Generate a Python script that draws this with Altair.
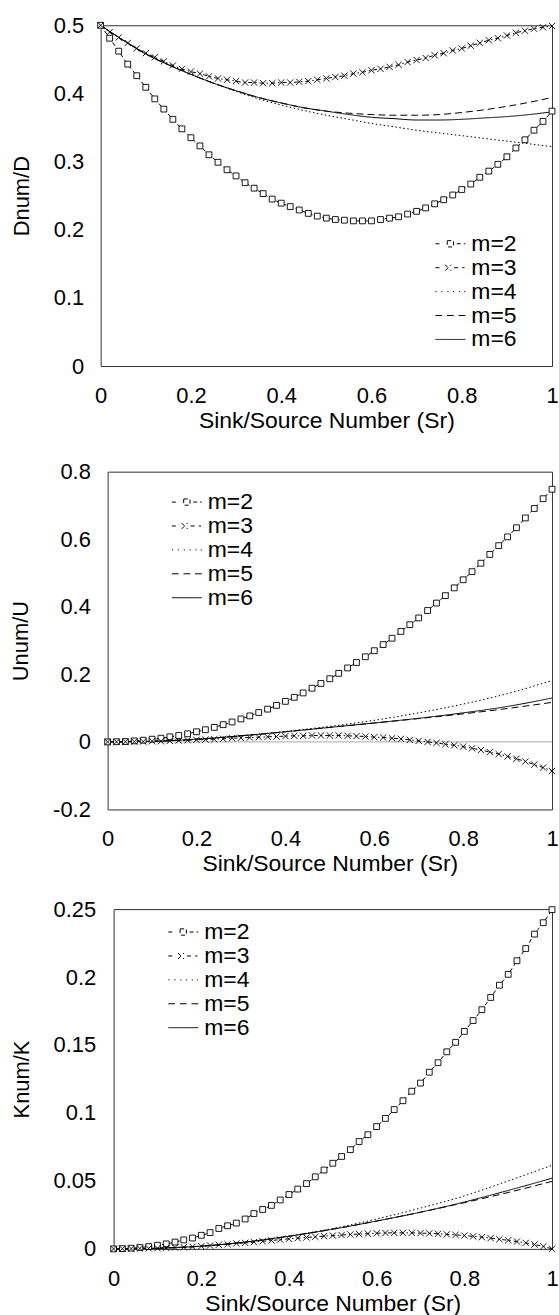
import altair as alt
import pandas as pd

FONT = "Liberation Sans"
SERIES = ["m=2", "m=3", "m=4", "m=5", "m=6"]
DASHES = [[4, 3], [4, 3, 1.5, 3], [1.5, 2.5], [7, 4], [1, 0]]
X_PATH = "M-1,-1L1,1M-1,1L1,-1"

# legend glyphs (box -2..2, drawn solid)
GLYPHS = [
    "M-2,0H-1.2M-0.42,-0.42H0.42V0.42H-0.42ZM0.85,0H2",
    "M-2,0H-1.2M-0.7,-0.4L0.1,0.4M-0.7,0.4L0.1,-0.4M0.5,0H1.1M1.6,0H1.9",
    "M-2,0H-1.85M-1.2,0H-1.05M-0.4,0H-0.25M0.35,0H0.5M1.15,0H1.3M1.85,0H2",
    "M-2,0H-1.1M-0.45,0H0.45M1.1,0H2",
    "M-2,0H2",
]
GLYPH_EXPR = ("datum.value == 'm=2' ? '{0}' : datum.value == 'm=3' ? '{1}' : "
              "datum.value == 'm=4' ? '{2}' : datum.value == 'm=5' ? '{3}' : '{4}'").format(*GLYPHS)

X_MARKERS = [i / 50 for i in range(51)]
X_LINES_D = [i / 20 for i in range(21)]
X_LINES = [i / 10 for i in range(11)]
X_TICKS = [0, 0.2, 0.4, 0.6, 0.8, 1]

# ---- Panel 1: Dnum/D ----
D_M2 = [0.500, 0.481, 0.462, 0.443, 0.426, 0.409, 0.392, 0.377, 0.362, 0.348,
        0.335, 0.323, 0.310, 0.299, 0.288, 0.279, 0.269, 0.261, 0.253, 0.245,
        0.239, 0.234, 0.229, 0.224, 0.220, 0.217, 0.215, 0.214, 0.213, 0.213,
        0.213, 0.215, 0.217, 0.219, 0.223, 0.227, 0.232, 0.238, 0.244, 0.251,
        0.259, 0.267, 0.277, 0.286, 0.296, 0.307, 0.320, 0.332, 0.346, 0.359, 0.374]
D_M3 = [0.500, 0.490, 0.482, 0.474, 0.466, 0.459, 0.453, 0.447, 0.441, 0.436,
        0.432, 0.429, 0.425, 0.422, 0.420, 0.418, 0.416, 0.416, 0.415, 0.415,
        0.416, 0.416, 0.417, 0.418, 0.420, 0.422, 0.424, 0.426, 0.429, 0.431,
        0.434, 0.436, 0.439, 0.442, 0.446, 0.449, 0.452, 0.456, 0.459, 0.463,
        0.466, 0.470, 0.474, 0.478, 0.481, 0.485, 0.489, 0.492, 0.495, 0.497, 0.499]
D_M4 = [0.5, 0.478, 0.458, 0.442, 0.428, 0.415, 0.403, 0.392, 0.383, 0.375, 0.368,
        0.362, 0.356, 0.351, 0.346, 0.342, 0.338, 0.334, 0.330, 0.326, 0.322]
D_M5 = [0.5, 0.478, 0.458, 0.442, 0.428, 0.415, 0.404, 0.394, 0.386, 0.379, 0.374,
        0.371, 0.369, 0.368, 0.368, 0.369, 0.372, 0.376, 0.381, 0.387, 0.394]
D_M6 = [0.5, 0.478, 0.458, 0.442, 0.428, 0.415, 0.404, 0.394, 0.386, 0.379, 0.374,
        0.369, 0.365, 0.363, 0.361, 0.361, 0.362, 0.364, 0.366, 0.369, 0.373]
D_TICKS = [0, 0.1, 0.2, 0.3, 0.4, 0.5]

# ---- Panel 2: Unum/U ----
U_M2 = [0.0, 0.0005, 0.001, 0.003, 0.005, 0.008, 0.011, 0.015, 0.019, 0.024,
        0.030, 0.036, 0.043, 0.051, 0.059, 0.068, 0.077, 0.087, 0.097, 0.108,
        0.120, 0.132, 0.145, 0.159, 0.173, 0.187, 0.203, 0.219, 0.235, 0.252,
        0.270, 0.288, 0.307, 0.327, 0.347, 0.367, 0.389, 0.411, 0.433, 0.456,
        0.480, 0.504, 0.529, 0.555, 0.581, 0.607, 0.634, 0.663, 0.691, 0.720, 0.748]
U_M3 = [0.0, 0.0, 0.0005, 0.001, 0.001, 0.002, 0.002, 0.003, 0.004, 0.005,
        0.006, 0.007, 0.008, 0.009, 0.011, 0.012, 0.013, 0.014, 0.015, 0.016,
        0.017, 0.018, 0.018, 0.019, 0.019, 0.019, 0.019, 0.018, 0.017, 0.016,
        0.014, 0.013, 0.011, 0.009, 0.006, 0.003, 0.000, -0.003, -0.007, -0.010,
        -0.014, -0.019, -0.024, -0.030, -0.036, -0.043, -0.050, -0.058, -0.067, -0.076, -0.086]
U_M4 = [0.0, 0.002, 0.008, 0.018, 0.031, 0.046, 0.064, 0.086, 0.112, 0.143, 0.182]
U_M5 = [0.0, 0.002, 0.008, 0.018, 0.030, 0.043, 0.056, 0.069, 0.083, 0.099, 0.117]
U_M6 = [0.0, 0.002, 0.008, 0.018, 0.030, 0.043, 0.056, 0.070, 0.086, 0.105, 0.130]
U_TICKS = [-0.2, -0.1, 0, 0.1, 0.2, 0.3, 0.4, 0.5, 0.6, 0.7, 0.8]

# ---- Panel 3: Knum/K ----
K_M2 = [0.0, 0.0002, 0.0005, 0.001, 0.0017, 0.0027, 0.0037, 0.005, 0.0066, 0.008,
        0.010, 0.012, 0.015, 0.017, 0.019, 0.022, 0.026, 0.029, 0.032, 0.036,
        0.040, 0.044, 0.048, 0.053, 0.058, 0.063, 0.068, 0.073, 0.079, 0.084,
        0.090, 0.096, 0.1025, 0.109, 0.116, 0.122, 0.130, 0.137, 0.145, 0.152,
        0.160, 0.168, 0.176, 0.185, 0.194, 0.202, 0.212, 0.221, 0.2316, 0.240, 0.2496]
K_M3 = [0.0, 0.0001, 0.0002, 0.0003, 0.0004, 0.0005, 0.0007, 0.001, 0.0012, 0.0016,
        0.002, 0.0025, 0.003, 0.0034, 0.004, 0.0044, 0.005, 0.0056, 0.0062, 0.0068,
        0.0074, 0.0079, 0.0084, 0.0089, 0.0094, 0.0098, 0.0102, 0.0106, 0.0109, 0.0112,
        0.0115, 0.0117, 0.0118, 0.0118, 0.0118, 0.0116, 0.0114, 0.0111, 0.0107, 0.0103,
        0.0098, 0.0092, 0.0086, 0.0079, 0.0071, 0.0063, 0.0054, 0.0044, 0.0032, 0.0018, 0.0]
K_M4 = [0.0, 0.0005, 0.002, 0.005, 0.0095, 0.015, 0.022, 0.030, 0.039, 0.050, 0.0615]
K_M5 = [0.0, 0.0005, 0.002, 0.005, 0.0093, 0.0145, 0.0205, 0.027, 0.034, 0.0415, 0.0497]
K_M6 = [0.0, 0.0005, 0.002, 0.005, 0.0093, 0.0145, 0.0205, 0.027, 0.0345, 0.043, 0.052]
K_TICKS = [0, 0.05, 0.1, 0.15, 0.2, 0.25]


def panel(ytitle, m2, m3, xl, l4, l5, l6, ydom, yticks, w, h, ylab_pad,
          leg_x, leg_y, spacer_h, zero=False):
    rows = []
    for x, v in zip(X_MARKERS, m2):
        rows.append({"x": x, "y": v, "m": "m=2"})
    for x, v in zip(X_MARKERS, m3):
        rows.append({"x": x, "y": v, "m": "m=3"})
    for name, arr in (("m=4", l4), ("m=5", l5), ("m=6", l6)):
        for x, v in zip(xl, arr):
            rows.append({"x": x, "y": v, "m": name})
    df = pd.DataFrame(rows)

    xenc = alt.X("x:Q", scale=alt.Scale(domain=[0, 1], nice=False, zero=False),
                 axis=alt.Axis(values=X_TICKS, labelExpr="'' + datum.value",
                               title="Sink/Source Number (Sr)", labelFlush=False,
                               labelOverlap=False, labelPadding=19.5,
                               titlePadding=3, titleFontSize=23))
    yenc = alt.Y("y:Q", scale=alt.Scale(domain=ydom, nice=False, zero=False),
                 axis=alt.Axis(values=yticks, labelExpr="'' + datum.value",
                               title=ytitle, labelOverlap=False, labelFlush=False,
                               labelPadding=ylab_pad, titlePadding=20, titleFontSize=22))

    lines = alt.Chart(df).mark_line(strokeWidth=1, interpolate="monotone").encode(
        x=xenc, y=yenc,
        strokeDash=alt.StrokeDash("m:N", scale=alt.Scale(domain=SERIES, range=DASHES),
                                  legend=None),
        color=alt.Color(
            "m:N", scale=alt.Scale(domain=SERIES, range=["black"] * 5),
            legend=alt.Legend(
                orient="none", legendX=leg_x, legendY=leg_y, title=None,
                symbolType=alt.ExprRef(expr=GLYPH_EXPR),
                symbolSize=225, symbolStrokeWidth=1, symbolStrokeColor="black",
                symbolFillColor="white",
                labelFontSize=23, labelFont=FONT, labelColor="black",
                rowPadding=-1.1, labelOffset=9.5)),
    )
    pts = alt.Chart(df).transform_filter(
        alt.FieldOneOfPredicate(field="m", oneOf=["m=2", "m=3"])
    ).mark_point(filled=True, fill="white", stroke="black", strokeWidth=0.9, opacity=1).encode(
        x="x:Q", y="y:Q",
        shape=alt.Shape("m:N", scale=alt.Scale(domain=["m=2", "m=3"], range=["square", X_PATH]),
                        legend=None),
        size=alt.Size("m:N", scale=alt.Scale(domain=["m=2", "m=3"], range=[34, 40]), legend=None),
    )
    layers = []
    if zero:
        zdf = pd.DataFrame({"y": [0.0]})
        layers.append(alt.Chart(zdf).mark_rule(color="#aaaaaa", strokeWidth=1).encode(y="y:Q"))
    layers += [lines, pts]
    body = alt.layer(*layers).properties(width=w, height=h)

    spacer = alt.Chart(pd.DataFrame({"s": [0]})).mark_point(opacity=0, size=1).encode(
        x=alt.X("s:Q", axis=None), y=alt.Y("s:Q", axis=None)
    ).properties(width=1, height=spacer_h, view=alt.ViewBackground(strokeOpacity=0))
    return alt.hconcat(spacer, body, spacing=0).resolve_scale(
        x="independent", y="independent", color="independent", strokeDash="independent",
        size="independent"
    ).resolve_legend(color="independent")


p1 = panel("Dnum/D", D_M2, D_M3, X_LINES_D, D_M4, D_M5, D_M6, [0, 0.5], D_TICKS,
           453, 342, 17, 339.5, 207.8, 435.3)
p2 = panel("Unum/U", U_M2, U_M3, X_LINES, U_M4, U_M5, U_M6, [-0.2, 0.8], U_TICKS,
           446, 339, 17.3, 68, 19.0, 426.7, zero=True)
p3 = panel("Knum/K", K_M2, K_M3, X_LINES, K_M4, K_M5, K_M6, [0, 0.25], K_TICKS,
           440, 341, 18, 58.4, 11.5, 1)

chart = alt.vconcat(p1, p2, p3, spacing=0).resolve_scale(
    color="independent", strokeDash="independent", shape="independent",
    size="independent", x="independent", y="independent"
).resolve_legend(
    color="independent"
).configure_view(
    stroke="#333333", strokeWidth=1
).configure_axis(
    grid=False, ticks=False, domain=False, labelFont=FONT, titleFont=FONT,
    labelFontSize=22, titleFontWeight="normal",
    labelColor="black", titleColor="black"
).properties(
    padding={"left": 8, "top": 11, "right": 0, "bottom": 0},
    background="white"
)

chart.save("out.html", embed_options={"renderer": "svg", "actions": False})
